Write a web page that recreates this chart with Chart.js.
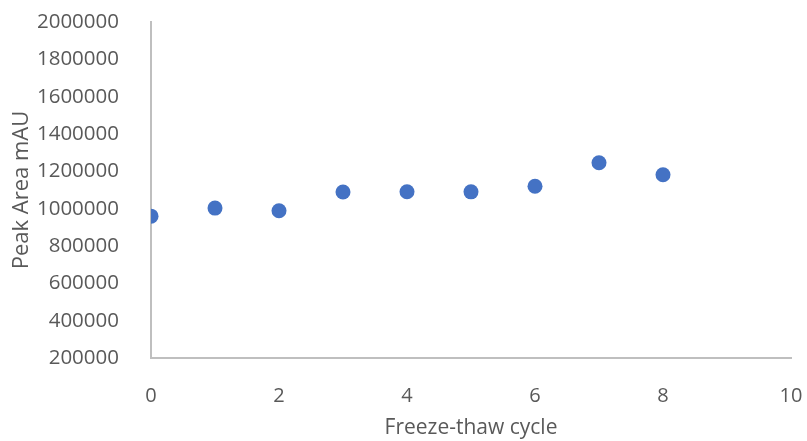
<!DOCTYPE html>
<html>
<head>
<meta charset="utf-8">
<script src="https://cdn.jsdelivr.net/npm/chart.js@4"></script>
<style>
  html, body { margin: 0; padding: 0; background: #ffffff; }
  #wrap { width: 807px; height: 441px; }
</style>
</head>
<body>
<div id="wrap"><canvas id="freezeChart" width="807" height="441"></canvas></div>
<script>
const cycles = [0, 1, 2, 3, 4, 5, 6, 7, 8];
const peakArea = [960000, 1003000, 989000, 1089000, 1091000, 1090000, 1120000, 1246000, 1182000];
const xTicks = [0, 2, 4, 6, 8, 10];
const yTicks = [200000, 400000, 600000, 800000, 1000000, 1200000, 1400000, 1600000, 1800000, 2000000];

const fontFamily = '"Open Sans", "Liberation Sans", sans-serif';
const textColor = '#595959';
const axisColor = '#bfbfbf';

const ctx = document.getElementById('freezeChart').getContext('2d');

new Chart(ctx, {
    type: 'scatter',
    data: {
        datasets: [{
            label: 'Peak Area',
            data: cycles.map((c, i) => ({ x: c, y: peakArea[i] })),
            backgroundColor: '#4472c4',
            borderColor: '#4472c4',
            pointRadius: 7.5,
            pointHoverRadius: 7.5,
            borderWidth: 0
        }]
    },
    options: {
        responsive: false,
        animation: false,
        layout: { padding: { top: 22, right: 16, left: 0, bottom: 0 } },
        plugins: {
            legend: { display: false },
            tooltip: { enabled: false }
        },
        scales: {
            x: {
                type: 'linear',
                min: 0,
                max: 10,
                afterBuildTicks: scale => { scale.ticks = xTicks.map(v => ({ value: v })); },
                afterFit: scale => {
                    scale.height = 83;
                    // tick padding would otherwise push the plot edges in
                    scale.paddingLeft = 0;
                    scale.paddingRight = 0;
                },
                grid: { display: false },
                border: { display: true, color: axisColor, width: 2 },
                ticks: {
                    color: textColor,
                    padding: 18,
                    font: { family: fontFamily, size: 20 }
                },
                title: {
                    display: true,
                    text: 'Freeze-thaw cycle',
                    color: textColor,
                    padding: { top: 0, bottom: 0 },
                    font: { family: fontFamily, size: 21 }
                }
            },
            y: {
                type: 'linear',
                min: 200000,
                max: 2000000,
                afterBuildTicks: scale => { scale.ticks = yTicks.map(v => ({ value: v })); },
                afterFit: scale => {
                    scale.width = 151;
                    scale.paddingTop = 0;
                    scale.paddingBottom = 0;
                },
                grid: { display: false },
                border: { display: true, color: axisColor, width: 2 },
                ticks: {
                    color: textColor,
                    padding: 24,
                    font: { family: fontFamily, size: 20.5 },
                    callback: v => String(v)
                },
                title: {
                    display: true,
                    text: 'Peak Area mAU',
                    color: textColor,
                    padding: { top: 9, bottom: 0 },
                    font: { family: fontFamily, size: 22 }
                }
            }
        }
    }
});
</script>
</body>
</html>
